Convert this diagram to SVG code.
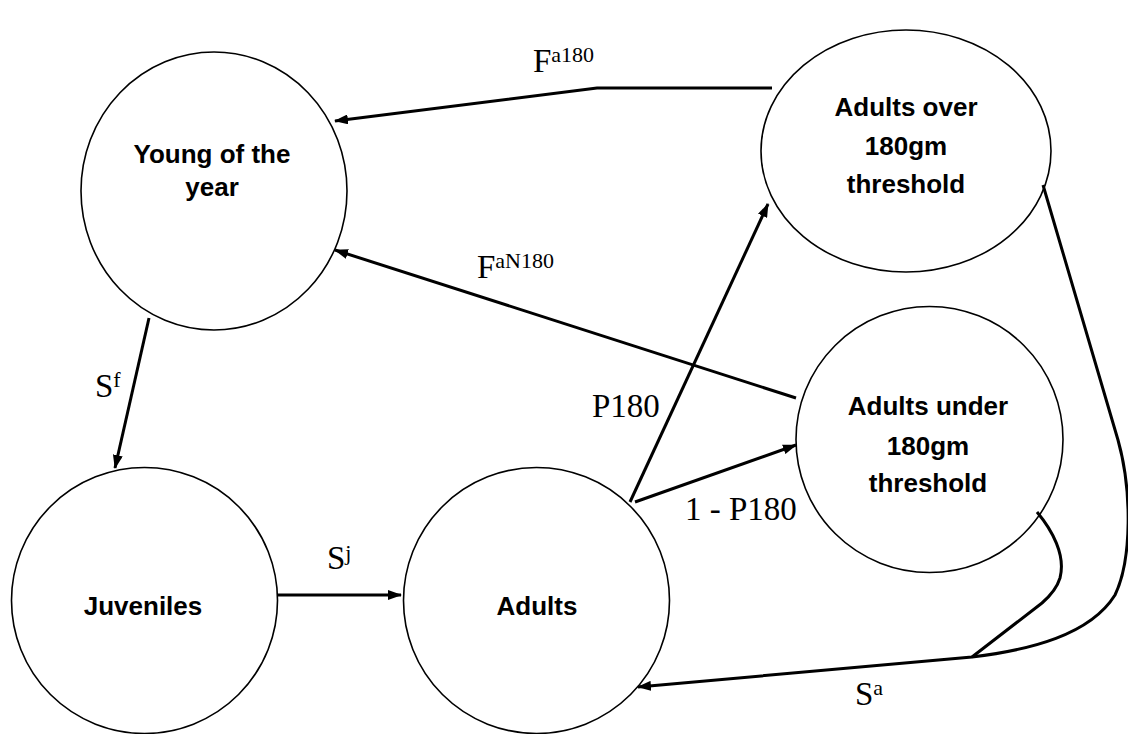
<svg xmlns="http://www.w3.org/2000/svg" width="1128" height="734" viewBox="0 0 1128 734">
<style>
.node{fill:#fff;stroke:#000;stroke-width:1.6}
.nl{font-family:"Liberation Sans",Arial,sans-serif;font-weight:bold;font-size:26px;text-anchor:middle;fill:#000}
.edge{fill:none;stroke:#000;stroke-width:3}
.lab{font-family:"Liberation Serif","Times New Roman",serif;font-size:33px;fill:#000}
.sup{font-size:22px}
</style>
<defs>
<marker id="arr" markerUnits="userSpaceOnUse" markerWidth="14" markerHeight="10" refX="13" refY="5" orient="auto">
<path d="M0,0 L14,5 L0,10 z" fill="#000"/>
</marker>
</defs>
<rect width="1128" height="734" fill="#fff"/>
<g id="young">
<ellipse class="node" cx="214" cy="191" rx="133" ry="139"/>
<text class="nl" x="212" y="163">Young of the</text>
<text class="nl" x="212" y="196">year</text>
</g>
<g id="juveniles">
<circle class="node" cx="144.5" cy="600.5" r="133"/>
<text class="nl" x="143" y="615">Juveniles</text>
</g>
<g id="adults">
<circle class="node" cx="536.5" cy="600.5" r="133"/>
<text class="nl" x="537" y="615">Adults</text>
</g>
<g id="over">
<ellipse class="node" cx="906" cy="151" rx="145" ry="121"/>
<text class="nl" x="906" y="116">Adults over</text>
<text class="nl" x="906" y="155">180gm</text>
<text class="nl" x="906" y="193">threshold</text>
</g>
<g id="under">
<ellipse class="node" cx="929.5" cy="439.5" rx="133.5" ry="133"/>
<text class="nl" x="928" y="415">Adults under</text>
<text class="nl" x="928" y="455">180gm</text>
<text class="nl" x="928" y="492">threshold</text>
</g>
<g id="connectors">
<polyline class="edge" points="772,88 597,88 335,121" marker-end="url(#arr)"/>
<line class="edge" x1="796" y1="398" x2="335" y2="250" marker-end="url(#arr)"/>
<line class="edge" x1="149" y1="318" x2="115" y2="468" marker-end="url(#arr)"/>
<line class="edge" x1="277" y1="595" x2="401" y2="595" marker-end="url(#arr)"/>
<line class="edge" x1="630" y1="502" x2="768" y2="204" marker-end="url(#arr)"/>
<line class="edge" x1="635" y1="502" x2="796" y2="445" marker-end="url(#arr)"/>
<path class="edge" d="M1043,185 L1118,440 C1132,490 1132,560 1115,595 C1090,635 1030,650 972,657 L638,687" marker-end="url(#arr)"/>
<path class="edge" d="M1037,512 C1052,530 1066,555 1060,578 C1057,588 1050,596 1042,603 L972,657"/>
</g>
<g id="labels">
<text class="lab" x="533" y="72">F<tspan class="sup" dy="-10">a180</tspan></text>
<text class="lab" x="477" y="278">F<tspan class="sup" dy="-10">aN180</tspan></text>
<text class="lab" x="95" y="397">S<tspan class="sup" dy="-10">f</tspan></text>
<text class="lab" x="327" y="569">S<tspan class="sup" dy="-9">j</tspan></text>
<text class="lab" x="855" y="705">S<tspan class="sup" dy="-10">a</tspan></text>
<text class="lab" x="592" y="417">P180</text>
<text class="lab" x="685" y="520">1 - P180</text>
</g>
</svg>
